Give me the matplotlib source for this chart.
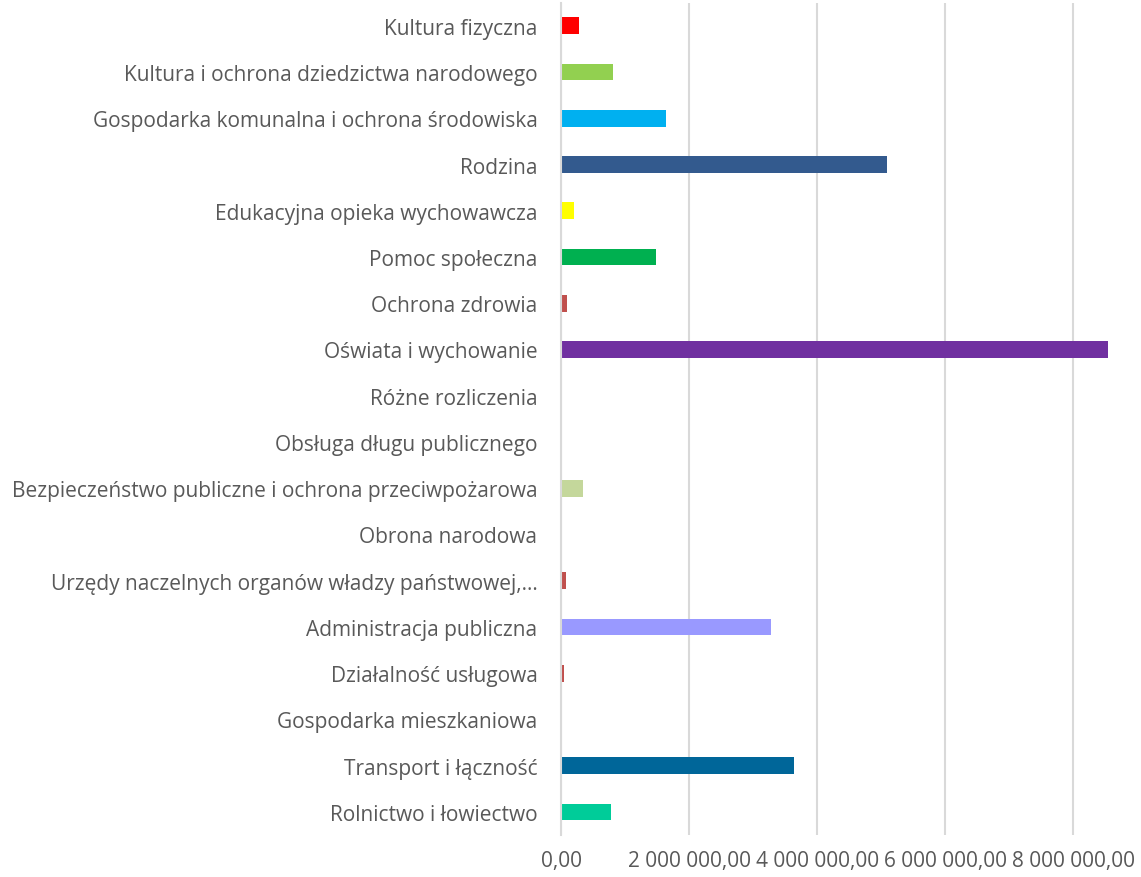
import matplotlib.pyplot as plt
from matplotlib.ticker import FuncFormatter

# categories listed bottom to top
categories = [
    "Rolnictwo i łowiectwo",
    "Transport i łączność",
    "Gospodarka mieszkaniowa",
    "Działalność usługowa",
    "Administracja publiczna",
    "Urzędy naczelnych organów władzy państwowej,…",
    "Obrona narodowa",
    "Bezpieczeństwo publiczne i ochrona przeciwpożarowa",
    "Obsługa długu publicznego",
    "Różne rozliczenia",
    "Oświata i wychowanie",
    "Ochrona zdrowia",
    "Pomoc społeczna",
    "Edukacyjna opieka wychowawcza",
    "Rodzina",
    "Gospodarka komunalna i ochrona środowiska",
    "Kultura i ochrona dziedzictwa narodowego",
    "Kultura fizyczna",
]
values = [
    780000, 3640000, 20000, 50000, 3280000, 80000, 0, 340000, 10000,
    0, 8550000, 90000, 1480000, 200000, 5090000, 1640000, 810000, 280000,
]
colors = [
    "#00CC99", "#006699", "#D0C4C4", "#C0504D", "#9999FF", "#C0504D",
    "#C0504D", "#C4D79B", "#F2DCDB", "#C0504D", "#7030A0", "#C0504D",
    "#00B050", "#FFFF00", "#335A8E", "#00B0F0", "#92D050", "#FF0000",
]
xticks = [0, 2000000, 4000000, 6000000, 8000000]

plt.rcParams['font.family'] = ['Open Sans', 'DejaVu Sans']
text_color = '#595959'

fig = plt.figure(figsize=(11.41, 8.78), dpi=100)
ax = fig.add_axes([0.4917, 0.0478, 0.5083, 0.948])

ypos = list(range(len(categories)))
ax.barh(ypos, values, height=0.36, color=colors, zorder=3)

ax.set_xlim(0, 9.06e6)
ax.set_ylim(-0.5, len(categories) - 0.5)
ax.set_yticks(ypos)
ax.set_yticklabels(categories)
ax.set_xticks(xticks)


def fmt(v, pos):
    s = f"{v:,.2f}".replace(",", " ").replace(".", ",")
    return s


ax.xaxis.set_major_formatter(FuncFormatter(fmt))
ax.tick_params(axis='y', length=0, pad=17, labelsize=15, labelcolor=text_color)
ax.tick_params(axis='x', length=0, pad=11, labelsize=15, labelcolor=text_color)

ax.grid(axis='x', color='#D9D9D9', linewidth=1.5, zorder=0)
for side in ['top', 'right', 'bottom']:
    ax.spines[side].set_visible(False)
ax.spines['left'].set_color('#D9D9D9')
ax.spines['left'].set_linewidth(1.5)
ax.spines['left'].set_zorder(4)

fig.savefig('out.png', dpi=100)
